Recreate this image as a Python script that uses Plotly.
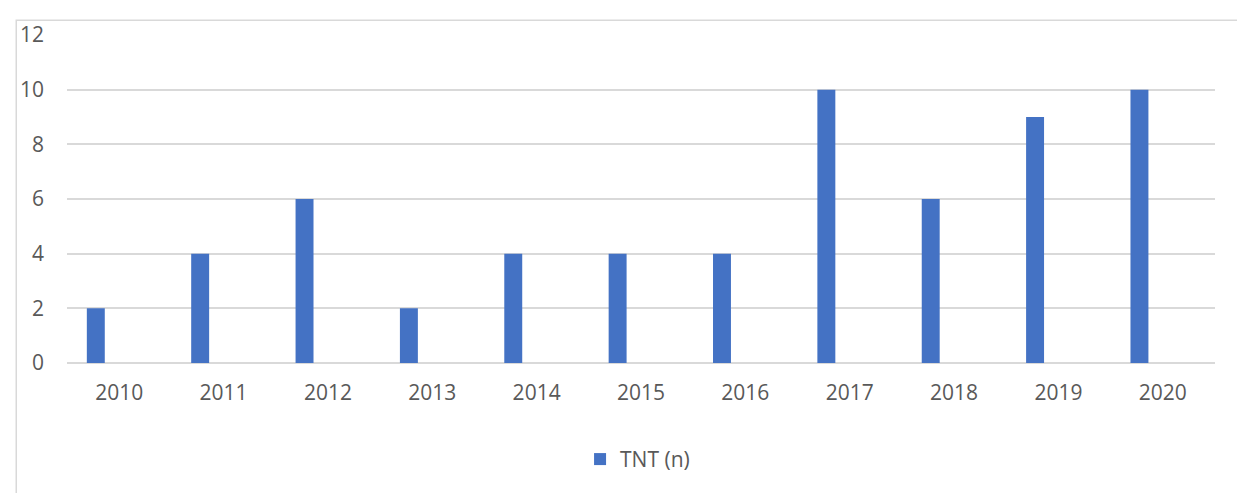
import plotly.graph_objects as go

years = ["2010", "2011", "2012", "2013", "2014", "2015", "2016", "2017", "2018", "2019", "2020"]
tnt_counts = [2, 4, 6, 2, 4, 4, 4, 10, 6, 9, 10]
series_name = "TNT (n)"
y_ticks = [0, 2, 4, 6, 8, 10, 12]

FONT = "Open Sans"
TXT = "#595959"
GRID = "#d9d9d9"

# page body adds an ~8px offset, so the figure is sized to fill the rest of the window
W, H = 1237, 485
L, R, T, B = 53, 30, 22, 130
PW, PH = W - L - R, H - T - B

fig = go.Figure()
fig.add_trace(go.Bar(
    x=years, y=tnt_counts, name=series_name,
    marker=dict(color="#4472c4", line=dict(width=0)),
    width=0.172, offset=-0.31,
    showlegend=True,
))

fig.update_layout(
    width=W, height=H,
    margin=dict(l=L, r=R, t=T, b=B),
    paper_bgcolor="white", plot_bgcolor="white",
    font=dict(family=FONT, size=21, color=TXT),
    showlegend=True,
    legend=dict(orientation="h", x=0.497, xanchor="center", y=-0.294, yanchor="middle",
                font=dict(family=FONT, size=21, color=TXT), bgcolor="rgba(0,0,0,0)"),
    xaxis=dict(type="category", showgrid=False, showline=False, zeroline=False,
               ticks="", ticklabelstandoff=15, tickfont=dict(family=FONT, size=21, color=TXT)),
    yaxis=dict(range=[0, 12], tickvals=y_ticks, showgrid=True, gridcolor=GRID, gridwidth=1.5,
               zeroline=True, zerolinecolor=GRID, zerolinewidth=1.5, showline=False,
               ticks="", ticklabelstandoff=22, tickfont=dict(family=FONT, size=21, color=TXT)),
    shapes=[dict(type="rect", xref="paper", yref="paper",
                 x0=(2 - L) / PW, x1=(W + 20 - L) / PW,
                 y0=(PH + T - (H + 30)) / PH, y1=(PH + T - 7) / PH,
                 line=dict(color=GRID, width=1.5), fillcolor="rgba(0,0,0,0)", layer="below")],
)

fig.write_html("out.html")
